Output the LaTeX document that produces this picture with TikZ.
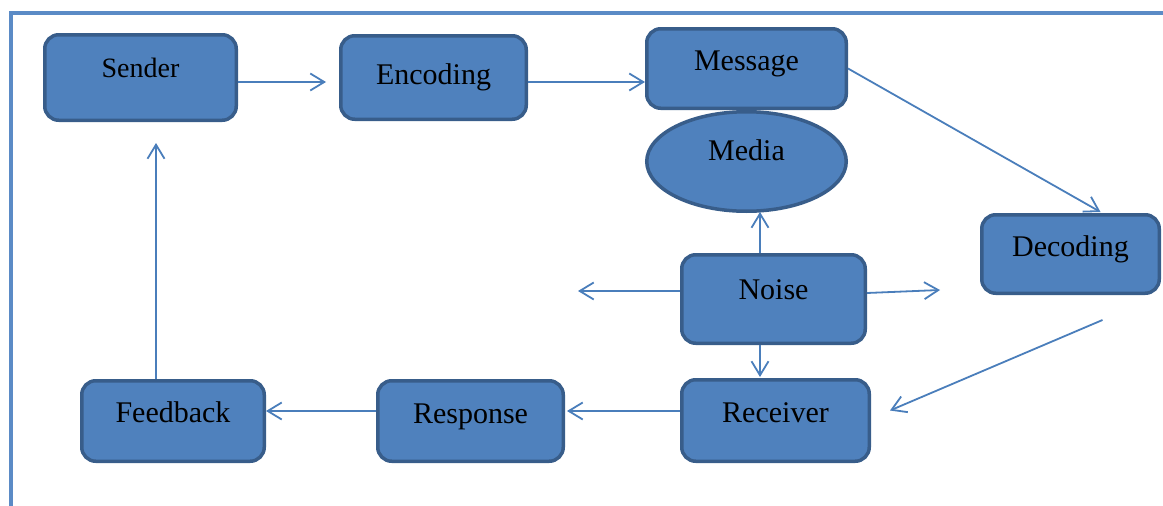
\documentclass[tikz,border=0pt]{standalone}
\usepackage{fontspec}
\setmainfont{Liberation Serif}
\usetikzlibrary{shapes.geometric,arrows.meta,calc}
\definecolor{fillb}{HTML}{4F81BD}
\definecolor{edgeb}{HTML}{385D8A}
\definecolor{lineb}{HTML}{4A7EBB}
\definecolor{frameb}{HTML}{5B8BC6}
\begin{document}
\begin{tikzpicture}[x=1pt,y=-1pt,
  box/.style={draw=edgeb, line width=3.5pt, fill=fillb, rounded corners=14pt,
    font=\fontsize{30}{36}\selectfont, text height=20pt, inner sep=0pt},
  oval/.style={box, ellipse, rounded corners=0pt},
  arr/.style={draw=lineb, line width=1.8pt, -{Straight Barb[length=14pt,width=17pt]}}]
\useasboundingbox (0,0) rectangle (1163,506);
\draw[frameb, line width=4pt] (11,506) -- (11,13) -- (1163,13);

\node[box, minimum width=191.5, minimum height=85.5, text depth=20pt, font=\fontsize{28}{34}\selectfont] (sender) at (140.5,77.5) {Sender};
\node[box, minimum width=185.5, minimum height=83.5, text depth=6pt] (encoding) at (433.5,77.5) {Encoding};
\node[oval, minimum width=199.5, minimum height=99.5, text depth=22pt] (media) at (746.5,161.5) {Media};
\node[box, minimum width=199.5, minimum height=79.5, text depth=16pt] (message) at (746.5,68.5) {Message};
\node[box, minimum width=177.5, minimum height=78.5, text depth=16pt] (decoding) at (1070.5,254) {Decoding};
\node[box, minimum width=183.5, minimum height=88.5, text depth=20pt] (noise) at (773.5,299) {Noise};
\node[box, minimum width=187.5, minimum height=81.5, text depth=16pt] (receiver) at (775.5,420.5) {Receiver};
\node[box, minimum width=185.5, minimum height=80.5, text depth=16pt] (response) at (470.5,421) {Response};
\node[box, minimum width=182.5, minimum height=80.5, text depth=18pt] (feedback) at (173,421) {Feedback};

\coordinate (nl) at (578,291);
\coordinate (nr) at (940,290);

\draw[arr] ($(sender.east)+(0,4.5)$) -- ($(encoding.west)+(-13,4.5)$);
\draw[arr] ($(encoding.east)+(0,4.5)$) -- ($(message.west)+(0,13.5)$);
\draw[arr] (message.east) -- ($(decoding.north)+(30,-1)$);
\draw[arr] ($(decoding.south)+(32,25)$) -- ($(receiver.east)+(19,-10)$);
\draw[arr] ($(noise.north)+(-13.5,0)$) -- ($(media.south)+(13.5,-1)$);
\draw[arr] ($(noise.west)+(0,-8)$) -- (nl);
\draw[arr] ($(noise.east)+(0,-6)$) -- (nr);
\draw[arr] ($(noise.south)+(-13.5,0)$) -- ($(receiver.north)+(-15.5,-1)$);
\draw[arr] ($(receiver.west)+(0,-9.5)$) -- ($(response.east)+(2,-10)$);
\draw[arr] ($(response.west)+(0,-10)$) -- ($(feedback.east)+(0,-10)$);
\draw[arr] ($(feedback.north)+(-17,0)$) -- ($(sender.south)+(15.5,21)$);
\end{tikzpicture}
\end{document}
